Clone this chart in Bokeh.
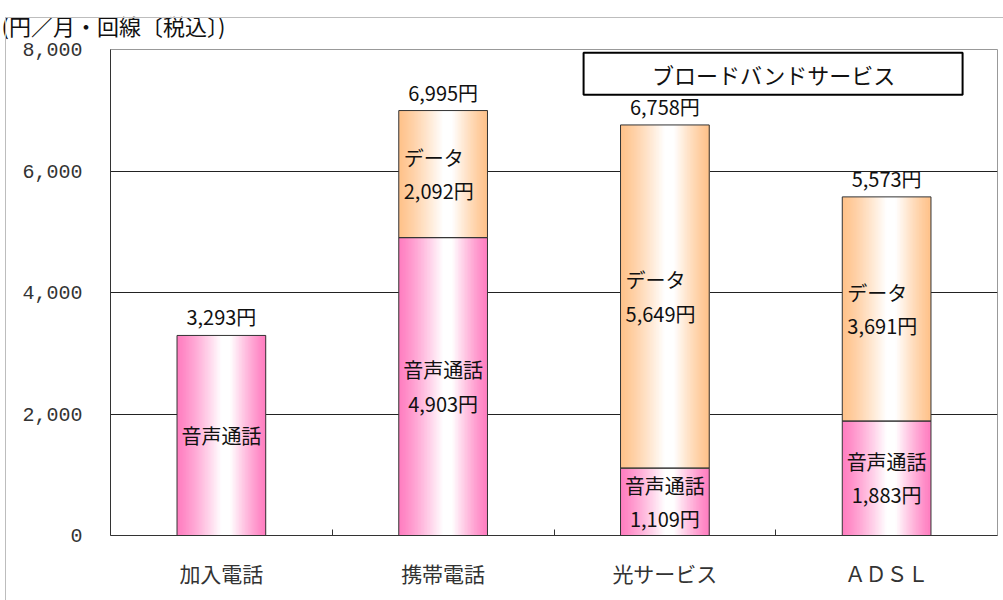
import numpy as np
from bokeh.plotting import figure
from bokeh.models import Range1d, FixedTicker, NumeralTickFormatter, ColumnDataSource, InlineStyleSheet
from bokeh.embed import file_html
from bokeh.resources import INLINE
from bokeh.core.properties import value

# Monthly cost per line (yen, tax included)
categories = ["加入電話", "携帯電話", "光サービス", "ＡＤＳＬ"]
voice = [3293, 4903, 1109, 1883]
data = [0, 2092, 5649, 3691]
totals = [3293, 6995, 6758, 5573]
voice_labels = ["音声通話", "音声通話\n4,903円", "音声通話\n1,109円", "音声通話\n1,883円"]
data_labels = ["", "データ\n2,092円", "データ\n5,649円", "データ\n3,691円"]
y_ticks = [0, 2000, 4000, 6000, 8000]

PINK = (255, 125, 192)
ORANGE = (255, 194, 138)
BAR_W = 0.40
N_STRIPS = 60
JP = "Noto Sans CJK JP"

p = figure(width=1003, height=600, output_backend="svg", toolbar_location=None,
           x_range=Range1d(0, 4), y_range=Range1d(0, 8000),
           min_border_left=110, min_border_right=6, min_border_top=49, min_border_bottom=65)
p.background_fill_color = "white"
p.border_fill_color = "white"
p.outline_line_color = "#999999"

# thin border around the whole chart area (top and left edges)
p.stylesheets = [InlineStyleSheet(css="""
:host::after {
  content: "";
  position: absolute;
  left: 5px; top: 17px; right: -20px; bottom: -20px;
  border-top: 1px solid #bdbdbd;
  border-left: 1px solid #bdbdbd;
  pointer-events: none;
  z-index: 5;
}
""")]

# unit caption in the top-left corner
p.title.text = "(円／月・回線〔税込〕)"
p.title.align = "left"
p.title.offset = -109
p.title.standoff = 14
p.title.vertical_align = "top"
p.title.text_font = JP
p.title.text_font_size = "22px"
p.title.text_font_style = "normal"
p.title.text_color = "#111111"

# grid
p.xgrid.visible = False
p.ygrid.ticker = FixedTicker(ticks=y_ticks)
p.ygrid.grid_line_color = "#222222"
p.ygrid.grid_line_width = 1

# y axis
p.yaxis.ticker = FixedTicker(ticks=y_ticks, minor_ticks=[])
p.yaxis.formatter = NumeralTickFormatter(format="0,0")
p.yaxis.major_tick_line_color = None
p.yaxis.minor_tick_line_color = None
p.yaxis.axis_line_color = "#333333"
p.yaxis.major_label_standoff = 22
p.yaxis.major_label_text_font = "Liberation Mono"
p.yaxis.major_label_text_font_size = "20px"
p.yaxis.major_label_text_color = "#333333"

# x axis: labels at category centres, tick marks at the boundaries
centers = [i + 0.5 for i in range(len(categories))]
p.xaxis.ticker = FixedTicker(ticks=centers, minor_ticks=[1, 2, 3])
p.xaxis.major_label_overrides = {c: name for c, name in zip(centers, categories)}
p.xaxis.major_tick_line_color = None
p.xaxis.minor_tick_line_color = "#333333"
p.xaxis.minor_tick_in = 6
p.xaxis.minor_tick_out = 0
p.xaxis.axis_line_color = "#333333"
p.xaxis.major_label_standoff = 16
p.xaxis.major_label_text_font = JP
p.xaxis.major_label_text_font_size = "21px"
p.xaxis.major_label_text_color = "#333333"


def shade(base, u):
    # whiteness across the bar: full colour at the edges, white just right of centre
    if u < 0.5:
        t = u / 0.5
    elif u < 0.6:
        t = 1.0
    else:
        t = (1.0 - u) / 0.4
    t = t ** 1.2
    r, g, b = [int(round(c + (255 - c) * t)) for c in base]
    return "#%02x%02x%02x" % (r, g, b)


# each strip runs to the bar's right edge so later strips overlap earlier ones without seams
strips = dict(left=[], right=[], bottom=[], top=[], color=[])
outlines = dict(left=[], right=[], bottom=[], top=[])
for i, c in enumerate(centers):
    x0 = c - BAR_W / 2
    segs = [(0, voice[i], PINK)]
    if data[i] > 0:
        segs.append((voice[i], voice[i] + data[i], ORANGE))
    for b, t, col in segs:
        for k in range(N_STRIPS):
            u0 = k / N_STRIPS
            u1 = (k + 1) / N_STRIPS
            strips["left"].append(x0 + BAR_W * u0)
            strips["right"].append(x0 + BAR_W)
            strips["bottom"].append(b)
            strips["top"].append(t)
            strips["color"].append(shade(col, (u0 + u1) / 2))
        outlines["left"].append(x0)
        outlines["right"].append(x0 + BAR_W)
        outlines["bottom"].append(b)
        outlines["top"].append(t)

p.quad(left="left", right="right", bottom="bottom", top="top", fill_color="color",
       line_color=None, source=ColumnDataSource(strips))
p.quad(left="left", right="right", bottom="bottom", top="top", fill_color=None,
       line_color="#333333", line_width=1, source=ColumnDataSource(outlines))

# boxed caption
p.rect(x=[2.988], y=[7600], width=[379], height=[42], width_units="screen",
       height_units="screen", fill_color="white", line_color="black", line_width=2)
p.text(x=[2.988], y=[7600], text=["ブロードバンドサービス"], text_align="center",
       text_baseline="middle", text_font=value(JP), text_font_size="22px", text_color="#111111")

# total above each bar
p.text(x=centers, y=totals, text=[f"{t:,}円" for t in totals], text_align="center",
       text_baseline="bottom", y_offset=-4, text_font=value(JP), text_font_size="20px",
       text_color="#111111")

# voice segment labels
p.text(x=centers, y=[v / 2 for v in voice], text=voice_labels, text_align="center",
       text_baseline="middle", text_font=value(JP), text_font_size="20px",
       text_color="#111111", text_line_height=1.15)

# data segment labels
dx, dy, dt = [], [], []
for i, c in enumerate(centers):
    if data[i] > 0:
        dx.append(c - BAR_W / 2)
        dy.append(voice[i] + data[i] / 2)
        dt.append(data_labels[i])
p.text(x=dx, y=dy, text=dt, text_align="left", text_baseline="middle", x_offset=5,
       text_font=value(JP), text_font_size="20px", text_color="#111111", text_line_height=1.15)

open("out.html", "w").write(file_html(p, INLINE))
